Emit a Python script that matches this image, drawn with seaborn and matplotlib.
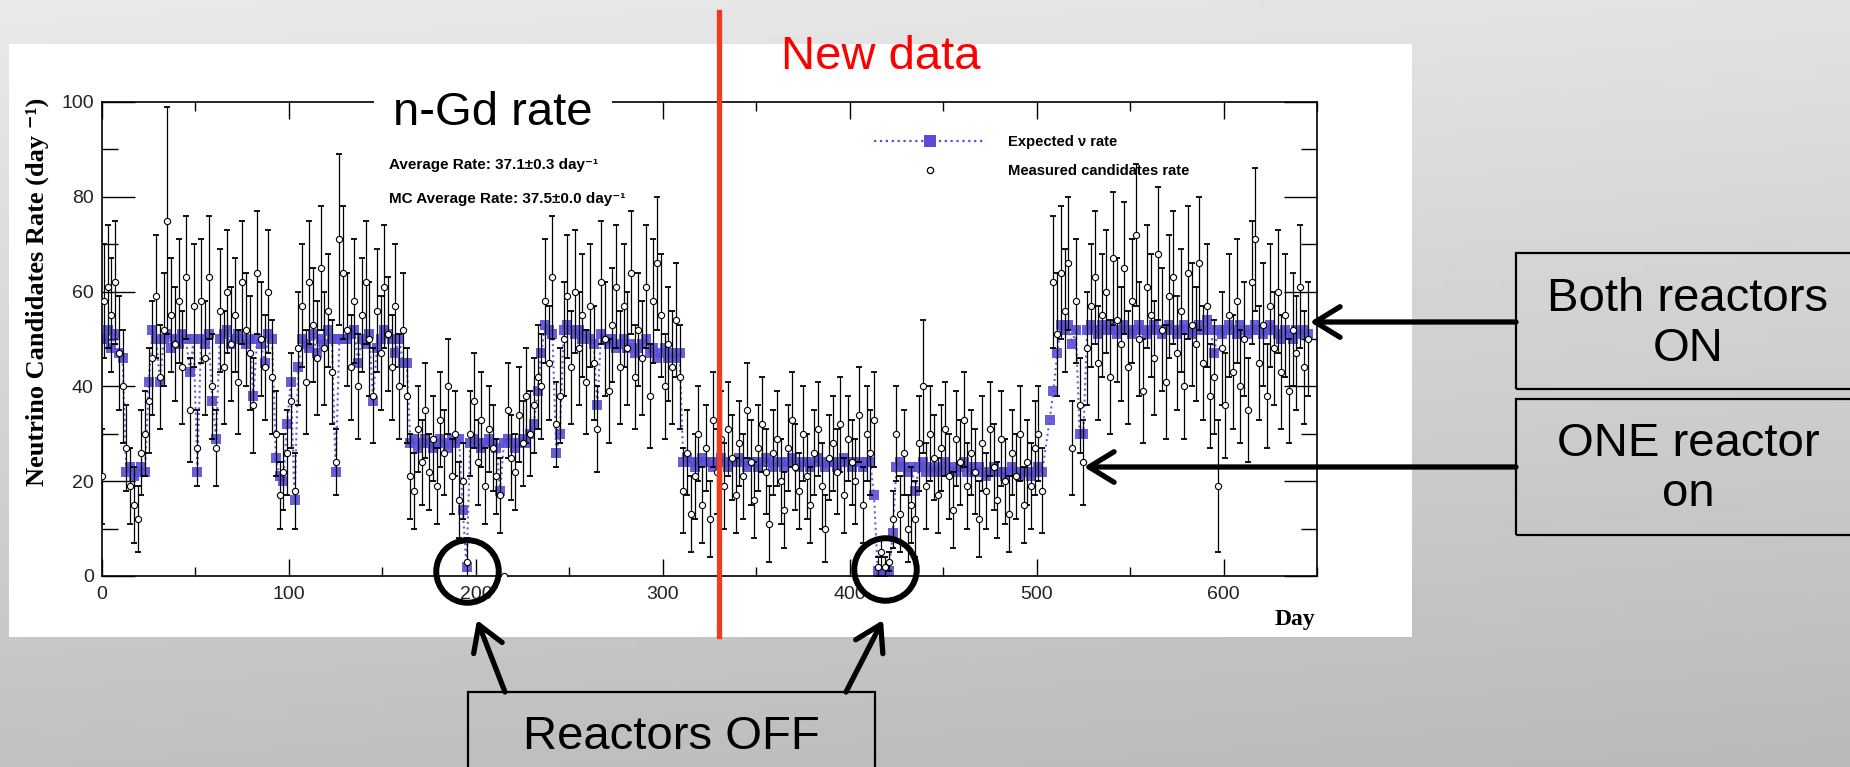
import numpy as np
import pandas as pd
import matplotlib
matplotlib.use("Agg")
import matplotlib.pyplot as plt
import seaborn as sns
from matplotlib.lines import Line2D
from matplotlib.patches import Rectangle
from matplotlib.ticker import MultipleLocator
from matplotlib import font_manager, transforms
from matplotlib.font_manager import FontProperties

# ------------------------------------------------------------------ data
# period A: both reactors mostly ON (day 0 .. 163)
days_a = [0] + list(range(1, 165, 2))
exp_a = [50,
         50, 52, 48, 51, 47, 46,
         22, 23, 21, 22, 23, 22,
         41,
         52, 50, 41, 50, 51, 48, 50, 49, 51, 50, 43, 50,
         22,
         50, 49, 51, 37, 29,
         50, 51, 52, 49, 50, 51, 50, 49, 50,
         38,
         50, 49, 45, 51, 50,
         25, 21, 20, 32, 41, 16,
         44, 50, 49, 48, 51, 47, 50, 49, 52, 50,
         22,
         50, 50, 50, 51,
         52, 45, 50, 49, 51, 37, 48, 50, 52, 51, 50, 47, 50, 45, 45]
meas_a = [21,
          58, 61, 55, 62, 47, 40,
          27, 19, 15, 12, 26, 30,
          37,
          46, 59, 42, 52, 75, 55, 49, 58, 44, 63, 35, 57,
          27,
          58, 46, 63, 40, 27,
          56, 44, 60, 49, 55, 41, 62, 52, 47,
          36,
          64, 50, 44, 60, 42,
          30, 17, 22, 26, 37, 18,
          48, 57, 41, 62, 53, 46, 65, 48, 56, 43,
          24,
          71, 64, 52, 44,
          58, 40, 55, 62, 50, 38, 56, 47, 61, 51, 44, 57, 40, 52, 38]
err_a = [10,
         12, 13, 12, 13, 12, 12,
         9, 8, 8, 7, 9, 9,
         11,
         12, 13, 11, 12, 24, 12, 12, 13, 12, 13, 11, 13,
         8,
         13, 12, 13, 11, 8,
         13, 12, 13, 12, 12, 11, 13, 12, 12,
         10,
         13, 12, 11, 13, 12,
         9, 7, 8, 9, 10, 8,
         12, 13, 11, 13, 12, 12, 13, 12, 12, 11,
         7,
         18, 14, 12, 11,
         13, 11, 12, 13, 12, 10, 13, 12, 13, 12, 11, 13, 11, 12, 10]

# period B: one reactor (day 165 .. 233)
days_b = list(range(165, 235, 2))
exp_b = [28, 29, 27, 28, 29, 28, 27, 28, 29, 28,
         27, 29, 28, 29, 14, 2, 28, 29, 28, 27,
         28, 29, 28, 27, 18, 28, 29, 28, 27, 28,
         29, 28, 30, 32, 39]
meas_b = [21, 18, 31, 24, 35, 22, 29, 19, 33, 26,
          40, 21, 30, 16, 20, 3, 30, 37, 24, 33,
          19, 31, 27, 21, 17, 0, 35, 25, 22, 34,
          28, 38, 30, 36, 42]
err_b = [9, 8, 9, 9, 10, 8, 9, 8, 10, 9,
         10, 8, 9, 8, 8, 5, 9, 10, 9, 10,
         8, 9, 9, 8, 8, 0, 10, 9, 8, 10,
         9, 10, 9, 10, 11]

# period C: both reactors ON (day 235 .. 309)
days_c = list(range(235, 311, 2))
exp_c = [47, 53, 52, 51, 26, 30, 52, 53, 52, 51,
         52, 50, 51, 50, 49, 36, 51, 50, 49, 50,
         48, 49, 50, 48, 49, 47, 48, 49, 50, 47,
         48, 46, 47, 48, 46, 47, 46, 47]
meas_c = [40, 58, 45, 63, 32, 38, 50, 59, 44, 60,
          48, 55, 41, 57, 45, 31, 62, 50, 39, 53,
          61, 44, 57, 48, 64, 42, 52, 46, 61, 38,
          58, 66, 55, 40, 49, 44, 54, 42]
err_c = [11, 13, 12, 13, 9, 10, 12, 13, 12, 13,
         12, 13, 11, 13, 12, 9, 13, 12, 11, 12,
         13, 12, 13, 12, 13, 11, 12, 12, 13, 11,
         13, 14, 13, 11, 12, 12, 12, 11]

# period D: one reactor (day 311 .. 413)
days_d = list(range(311, 415, 2))
exp_d = [24, 25, 24, 23, 24, 25, 24, 24, 23, 24,
         25, 24, 23, 24, 24, 25, 24, 23, 24, 24,
         23, 24, 25, 24, 23, 24, 24, 23, 24, 25,
         24, 23, 24, 24, 23, 24, 25, 24, 23, 24,
         24, 23, 24, 25, 24, 23, 24, 24, 23, 24,
         24, 17]
meas_d = [18, 26, 13, 21, 30, 15, 27, 12, 33, 22,
          29, 19, 31, 25, 17, 28, 21, 35, 24, 16,
          27, 32, 22, 11, 26, 29, 20, 14, 27, 33,
          23, 18, 30, 21, 15, 26, 31, 19, 10, 25,
          28, 22, 32, 17, 29, 24, 20, 34, 15, 30,
          26, 33]
err_d = [9, 9, 8, 9, 10, 8, 9, 8, 10, 9,
         10, 9, 10, 9, 8, 9, 9, 10, 9, 8,
         9, 10, 9, 8, 9, 10, 9, 8, 9, 10,
         9, 8, 10, 9, 8, 9, 10, 9, 7, 9,
         10, 9, 10, 8, 9, 9, 9, 10, 8, 10,
         9, 10]

# reactors OFF
days_off = [415, 417, 419, 421]
exp_off = [1, 0.5, 1, 1]
meas_off = [2, 5, 2, 3]
err_off = [2, 3, 2, 2]

# period E: one reactor (day 423 .. 503)
days_e = list(range(423, 505, 2))
exp_e = [9, 23, 24, 23, 22, 23, 18, 23, 24, 22,
         23, 22, 23, 22, 24, 22, 23, 22, 23, 24,
         22, 23, 22, 23, 22, 21, 22, 23, 22, 22,
         21, 22, 23, 22, 21, 22, 22, 21, 22, 23, 22]
meas_e = [12, 30, 13, 26, 10, 15, 12, 28, 40, 19,
          30, 25, 17, 27, 31, 21, 14, 29, 24, 33,
          19, 26, 22, 12, 28, 18, 31, 23, 16, 29,
          20, 13, 26, 21, 30, 15, 24, 19, 27, 30, 18]
err_e = [6, 10, 8, 9, 7, 8, 8, 10, 14, 9,
         10, 9, 8, 9, 10, 9, 8, 10, 9, 10,
         9, 9, 9, 8, 10, 8, 10, 9, 8, 10,
         9, 8, 9, 9, 10, 8, 9, 9, 10, 10, 9]

# period F: both reactors ON (day 507 .. 645)
days_f = list(range(507, 647, 2))
exp_f = [33, 39, 47, 53, 52, 53, 49, 52, 30, 30,
         52, 53, 52, 51, 53, 52, 53, 52, 51, 52,
         53, 52, 51, 52, 53, 52, 51, 52, 53, 52,
         51, 52, 53, 52, 51, 52, 53, 52, 51, 52,
         53, 52, 54, 52, 47, 52, 51, 52, 53, 52,
         51, 53, 52, 51, 52, 53, 52, 51, 52, 53,
         52, 51, 50, 52, 51, 50, 52, 51, 52, 51]
meas_f = [np.nan, 62, 51, 64, 56, 66, 27, 58, 36, 24,
          48, 57, 63, 45, 55, 60, 42, 67, 54, 49,
          65, 44, 58, 72, 50, 39, 61, 55, 46, 68,
          52, 41, 59, 63, 47, 56, 40, 64, 53, 49,
          66, 45, 57, 38, 42, 19, 48, 36, 55, 43,
          58, 40, 50, 35, 62, 71, 45, 53, 38, 57,
          48, 60, 43, 55, 39, 52, 47, 61, 44, 50]
err_f = [0, 14, 13, 14, 13, 14, 10, 13, 10, 9,
         12, 13, 14, 12, 13, 13, 12, 14, 13, 12,
         14, 12, 13, 15, 12, 11, 13, 13, 12, 14,
         13, 12, 13, 14, 12, 13, 11, 14, 13, 12,
         14, 12, 13, 11, 12, 14, 12, 11, 13, 12,
         13, 12, 12, 11, 13, 15, 12, 13, 11, 13,
         12, 13, 12, 13, 11, 12, 12, 13, 12, 12]

x_ticks = [0, 100, 200, 300, 400, 500, 600]
y_ticks = [0, 20, 40, 60, 80, 100]

df = pd.DataFrame({
    "day": days_a + days_b + days_c + days_d + days_off + days_e + days_f,
    "expected": exp_a + exp_b + exp_c + exp_d + exp_off + exp_e + exp_f,
    "rate": meas_a + meas_b + meas_c + meas_d + meas_off + meas_e + meas_f,
    "err": err_a + err_b + err_c + err_d + err_off + err_e + err_f,
})

# ------------------------------------------------------------------ style
avail = {f.name for f in font_manager.fontManager.ttflist}
NARROW = "Liberation Sans Narrow" if "Liberation Sans Narrow" in avail else "Liberation Sans"
plt.rcParams["font.family"] = ["Liberation Sans", "DejaVu Sans"]

W, H = 1850, 767
BLUE = "#5a4ed8"
BIG = 34
fig = plt.figure(figsize=(W / 100, H / 100), dpi=100)

# slide background gradient
bg = fig.add_axes([0, 0, 1, 1], zorder=-10)
yy, xx = np.mgrid[0:1:200j, 0:1:200j]
shade = 0.915 - 0.16 * yy - 0.03 * xx
bg.imshow(shade, cmap="gray", vmin=0, vmax=1, aspect="auto",
          extent=[0, 1, 0, 1], origin="upper")
bg.add_patch(Rectangle((9 / W, 1 - 637 / H), 1403 / W, 593 / H,
                       transform=bg.transAxes, facecolor="white", edgecolor="none"))
bg.set_xlim(0, 1)
bg.set_ylim(0, 1)
bg.axis("off")

ax = fig.add_axes([102 / W, 1 - 576 / H, 1215 / W, 474 / H], zorder=1)
ax.set_facecolor("white")

sns.lineplot(data=df, x="day", y="expected", ax=ax, sort=False, estimator=None,
             color=BLUE, linestyle=":", linewidth=1.5, marker="s", markersize=6.5,
             markeredgewidth=0, alpha=0.9, zorder=2, legend=False)
ax.errorbar(df["day"], df["rate"], yerr=df["err"], fmt="none", ecolor="black",
            elinewidth=0.9, capsize=2.5, capthick=1.3, zorder=3)
sns.scatterplot(data=df, x="day", y="rate", ax=ax, marker="o", s=20,
                color="white", edgecolor="black", linewidth=0.8, zorder=4, legend=False)

ax.set_xlim(0, 650)
ax.set_ylim(0, 100)
ax.set_xlabel("")
ax.set_ylabel("")
ax.set_xticks(x_ticks)
ax.set_yticks(y_ticks)
ax.xaxis.set_minor_locator(MultipleLocator(50))
ax.yaxis.set_minor_locator(MultipleLocator(10))
ax.tick_params(axis="x", which="major", direction="in", length=12, width=1,
               top=True, bottom=True, labelsize=14, pad=7, labelcolor="#222222")
ax.tick_params(axis="x", which="minor", direction="in", length=6.5, width=1,
               top=True, bottom=True)
ax.tick_params(axis="y", which="major", direction="in", length=24, width=1,
               left=True, right=True, labelsize=14, pad=6, labelcolor="#222222")
ax.tick_params(axis="y", which="minor", direction="in", length=11.5, width=1,
               left=True, right=True)
for s in ax.spines.values():
    s.set_linewidth(1.2)
    s.set_color("black")

# axis titles
fig.text(37.5 / W, 1 - 98 / H, "Neutrino Candidates Rate (day ⁻¹)", rotation=90,
         ha="center", va="top", fontsize=19, fontweight="bold",
         family=["Liberation Serif", "DejaVu Serif"])
fig.text(1315 / W, 1 - 625 / H, "Day", ha="right", va="baseline", fontsize=17,
         fontweight="bold", family=["Liberation Serif", "DejaVu Serif"])

# stats text
fig.text(389 / W, 1 - 165 / H, "Average Rate: 37.1±0.3 day⁻¹", ha="left", va="center",
         fontsize=11, fontweight="bold", family=[NARROW, "DejaVu Sans"])
fig.text(389 / W, 1 - 199 / H, "MC Average Rate: 37.5±0.0 day⁻¹", ha="left", va="center",
         fontsize=11, fontweight="bold", family=[NARROW, "DejaVu Sans"])

# legend
handles = [Line2D([0], [0], color=BLUE, ls=":", lw=1.6, marker="s", ms=8, mew=0),
           Line2D([0], [0], ls="none", marker="o", ms=4.5, mfc="white", mec="black", mew=0.9)]
fig.legend(handles, ["Expected ν rate", "Measured candidates rate"], loc="upper left",
           bbox_to_anchor=(874 / W, 1 - 135 / H), frameon=False, handlelength=7.6,
           handletextpad=1.5, labelspacing=1.0, borderpad=0, borderaxespad=0,
           prop=FontProperties(family=[NARROW, "DejaVu Sans"], weight="bold", size=10.6))

# slide annotations
fig.text(493 / W, 1 - 125 / H, "n-Gd rate", fontsize=BIG, ha="center", va="baseline",
         color="black", zorder=5,
         bbox=dict(facecolor="white", edgecolor="none", pad=14))
fig.text(881 / W, 1 - 69 / H, "New data", fontsize=BIG, ha="center", va="baseline",
         color="#ff0000", zorder=5)

blend = transforms.blended_transform_factory(ax.transData, fig.transFigure)
fig.add_artist(Line2D([330, 330], [1 - 636 / H, 1 - 12 / H], transform=blend,
                      color="#f23a1d", lw=3.8, zorder=6))

def box(x0, y0, x1, y1):
    fig.add_artist(Rectangle((x0 / 100, (H - y1) / 100), (x1 - x0) / 100, (y1 - y0) / 100,
                             transform=fig.dpi_scale_trans, facecolor="none",
                             edgecolor="black", lw=1.6, zorder=5))

box(1516, 253, 1870, 389)
box(1516, 399, 1870, 535)
box(468, 692, 875, 800)

fig.text(1688 / W, 1 - 324 / H, "Both reactors\nON", fontsize=BIG, ha="center",
         va="center", multialignment="center", linespacing=1.17)
fig.text(1688 / W, 1 - 469 / H, "ONE reactor\non", fontsize=BIG, ha="center",
         va="center", multialignment="center", linespacing=1.17)
fig.text(671 / W, 1 - 749 / H, "Reactors OFF", fontsize=BIG, ha="center", va="baseline")

arrow_kw = dict(arrowstyle="->, head_length=0.9, head_width=0.55", lw=3.8,
                color="black", shrinkA=0, shrinkB=0, mutation_scale=20)
for (x0, y0), (x1, y1) in [((1516, 322), (1310, 322)), ((1516, 467), (1084, 467)),
                           ((505, 692), (477, 620)), ((846, 692), (883, 620))]:
    ax.annotate("", xy=(x1, H - y1), xytext=(x0, H - y0), xycoords="figure pixels",
                textcoords="figure pixels", arrowprops=arrow_kw, annotation_clip=False,
                zorder=7)

# circles around reactor-off points
ax.plot([195.5], [1.0], "o", ms=45, mfc="none", mec="black", mew=4.3,
        clip_on=False, zorder=8)
ax.plot([419], [1.5], "o", ms=45, mfc="none", mec="black", mew=4.3,
        clip_on=False, zorder=8)

fig.savefig("out.png", dpi=100)
